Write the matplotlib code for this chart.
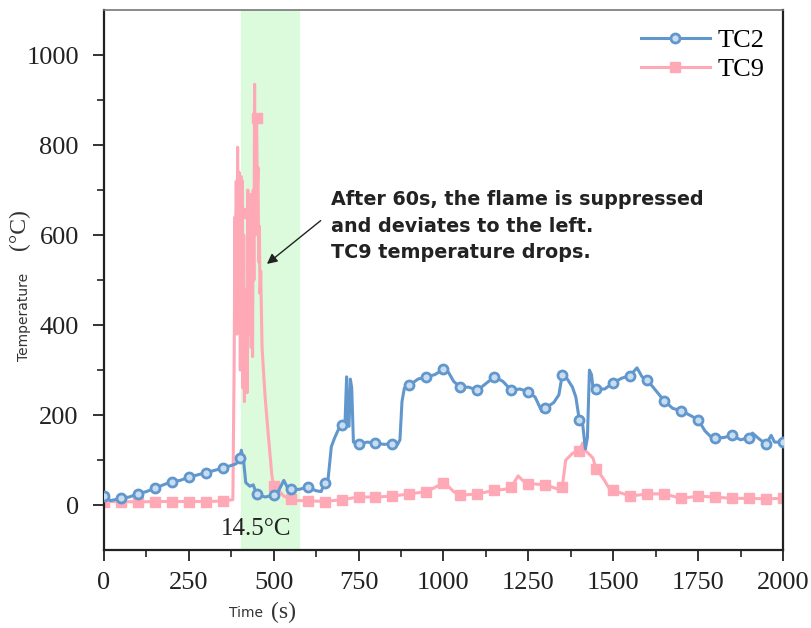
import numpy as np
import matplotlib.pyplot as plt

# Datos
tc2_t = [0, 10, 20, 50, 75, 100, 125, 150, 175, 200, 225, 250, 275, 300, 325, 350, 375, 390,
         400, 405, 412, 418, 430, 440, 450, 475, 500, 510, 520, 530, 540, 550, 575, 600, 625,
         640, 650, 660, 670, 680, 695, 700, 710, 715, 718, 722, 726, 730, 735, 750, 775, 800,
         825, 850, 865, 872, 878, 885, 900, 925, 950, 975, 1000, 1015, 1030, 1050, 1075, 1100,
         1125, 1150, 1175, 1200, 1225, 1250, 1270, 1290, 1300, 1325, 1340, 1350, 1365, 1380,
         1390, 1400, 1410, 1418, 1424, 1430, 1436, 1442, 1450, 1475, 1500, 1525, 1550, 1570,
         1585, 1600, 1625, 1650, 1675, 1700, 1725, 1750, 1770, 1790, 1800, 1825, 1850, 1875,
         1900, 1910, 1925, 1950, 1965, 1975, 2000]
tc2_v = [20, 15, 10, 15, 18, 25, 30, 37, 45, 52, 55, 62, 67, 72, 77, 82, 88, 92,
         105, 122, 95, 50, 42, 45, 24, 18, 22, 25, 40, 55, 40, 35, 35, 40, 32,
         30, 50, 55, 130, 150, 175, 178, 178, 285, 180, 175, 280, 260, 140, 135, 140, 138,
         135, 136, 135, 145, 230, 260, 266, 280, 285, 290, 302, 295, 275, 262, 262, 255,
         270, 285, 275, 255, 258, 252, 240, 208, 215, 228, 245, 290, 280, 262,
         240, 190, 180, 125, 150, 300, 290, 250, 258, 258, 272, 282, 288, 305,
         285, 278, 255, 232, 215, 210, 200, 190, 165, 150, 150, 150, 155, 145,
         150, 160, 150, 135, 155, 140, 140]

tc9_t = [0, 50, 100, 150, 200, 250, 300, 350, 380, 384, 386, 388, 390, 392, 394, 396, 398,
         400, 402, 404, 406, 408, 410, 412, 414, 416, 418, 420, 422, 424, 426, 428, 430, 432,
         434, 436, 438, 440, 442, 444, 446, 448, 450, 452, 454, 456, 458, 460, 462, 466, 470,
         475, 485, 495, 500, 510, 520, 530, 550, 575, 600, 650, 700, 750, 800, 850, 900, 950,
         990, 1000, 1010, 1030, 1050, 1100, 1150, 1180, 1200, 1220, 1240, 1250, 1300, 1340,
         1350, 1360, 1380, 1400, 1410, 1420, 1440, 1450, 1470, 1490, 1500, 1550, 1600, 1650,
         1700, 1750, 1800, 1850, 1900, 1950, 2000]
tc9_v = [8, 8, 7, 8, 8, 8, 8, 9, 12, 330, 640, 420, 720, 380, 795, 450, 740,
         650, 300, 730, 420, 720, 260, 600, 230, 470, 300, 480, 250, 700, 380, 600, 470, 690,
         350, 620, 330, 700, 500, 935, 600, 860, 860, 700, 750, 540, 620, 470, 520, 350, 300,
         240, 150, 65, 42, 40, 28, 20, 13, 10, 10, 8, 12, 18, 18, 20, 25, 30,
         45, 50, 45, 30, 22, 25, 33, 35, 40, 65, 50, 48, 45, 35,
         40, 100, 115, 120, 138, 120, 105, 80, 60, 35, 33, 20, 25, 25,
         15, 20, 18, 15, 15, 14, 15]

marker_t = np.arange(0, 2001, 50)

blue = '#6197cc'
pink = '#ffa9b6'

plt.rcParams['font.family'] = 'Liberation Serif'
fig = plt.figure(figsize=(8.11, 6.28), dpi=100)
ax = fig.add_axes([0.128, 0.124, 0.8375, 0.86])

# Zona sombreada
ax.axvspan(405, 575, color='#dcfadc', zorder=0)

tc2_t = np.array(tc2_t)
tc9_t = np.array(tc9_t)
l9, = ax.plot(tc9_t, tc9_v, color=pink, lw=2.2, marker='s', ms=6.5,
              markevery=list(np.where(np.isin(tc9_t, marker_t))[0]), label='TC9', zorder=2)
l2, = ax.plot(tc2_t, tc2_v, color=blue, lw=2.2, marker='o', ms=6.5, mfc='#c9ddf0', mec=blue, mew=2,
              markevery=list(np.where(np.isin(tc2_t, marker_t))[0]), label='TC2', zorder=3)

ax.set_xlim(0, 2000)
ax.set_ylim(-100, 1100)
ax.set_xticks(np.arange(0, 2001, 250))
ax.set_xticks(np.arange(125, 2000, 250), minor=True)
ax.set_yticks(np.arange(0, 1001, 200))
ax.set_yticks(np.arange(100, 1100, 200), minor=True)
ax.tick_params(which='major', length=8, width=1.3, labelsize=19, color='#222', labelcolor='#222')
ax.tick_params(which='minor', length=5, width=1.2, color='#222')
ax.tick_params(axis='x', pad=8)
ax.tick_params(axis='y', pad=10)
for side in ['left', 'bottom', 'right']:
    ax.spines[side].set_linewidth(1.6)
    ax.spines[side].set_color('#222')
ax.spines['top'].set_linewidth(1.2)
ax.spines['top'].set_color('#777')

# Etiquetas de ejes
ax.text(-0.118, 0.431, 'Temperature', transform=ax.transAxes, rotation=90, ha='center',
        va='center', fontsize=10, family='DejaVu Sans', color='#333')
ax.text(-0.124, 0.593, '(°C)', transform=ax.transAxes, rotation=90, ha='center',
        va='center', fontsize=17, color='#333')
ax.text(0.209, -0.116, 'Time', transform=ax.transAxes, ha='center', va='center',
        fontsize=10, family='DejaVu Sans', color='#333')
ax.text(0.264, -0.116, '(s)', transform=ax.transAxes, ha='center', va='center',
        fontsize=17, color='#333')

# Anotaciones
ax.text(448, -54, '14.5°C', ha='center', va='center', fontsize=18, color='#222')
ax.text(668, 700, 'After 60s, the flame is suppressed\nand deviates to the left.\nTC9 temperature drops.',
        ha='left', va='top', fontsize=13.8, fontweight='bold', family='DejaVu Sans',
        linespacing=1.5, color='#222')
ax.annotate('', xy=(474, 532), xytext=(645, 636),
            arrowprops=dict(arrowstyle='-|>', color='#222', lw=1, mutation_scale=15))

ax.legend(handles=[l2, l9], loc='upper right', frameon=False, fontsize=19, handlelength=2.6,
          handletextpad=0.3, labelspacing=0.2, borderaxespad=0.3)

fig.savefig('out.png', dpi=100)
